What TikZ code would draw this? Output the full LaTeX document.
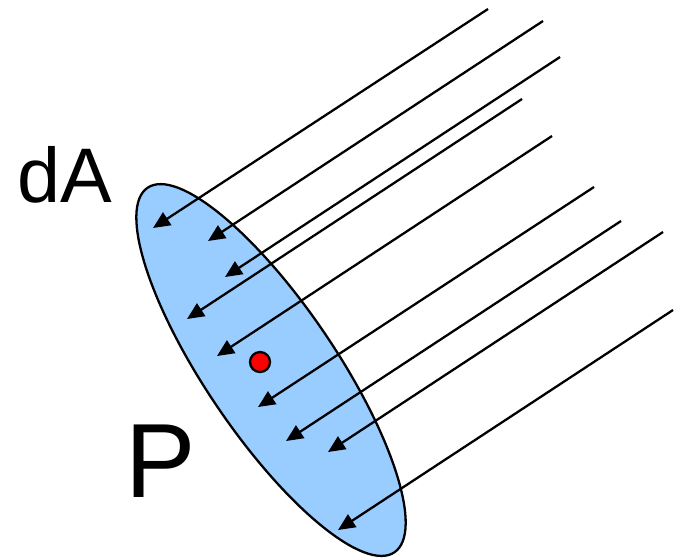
\documentclass[tikz,border=0pt]{standalone}
\usepackage{fontspec}
\setmainfont{Liberation Sans}
\usepackage{xcolor}
\usetikzlibrary{arrows.meta,shapes.geometric}
\definecolor{patchblue}{HTML}{99CCFF}

\begin{document}
\begin{tikzpicture}[x=0.01cm,y=0.01cm,line width=0.65pt,
  patch/.style={ellipse,draw,fill=patchblue,minimum width=4.4cm,
                minimum height=1.3cm,inner sep=0pt},
  ray/.style={-{Triangle[length=0.17cm,width=0.15cm]}},
  lbl/.style={anchor=base west,inner sep=0pt}]
  \useasboundingbox (0,0) rectangle (683,-557);
  \node[patch,rotate=-55.9] (dA) at (271,-370) {};
  \node[circle,draw,fill=red,minimum size=0.2cm,inner sep=0pt] (pt) at (260,-362) {};
  \node[lbl,font=\fontsize{22}{24}\selectfont] (dAtxt) at (16,-202) {dA};
  \node[lbl,font=\fontsize{30}{32}\selectfont] (Ptxt) at (124,-497) {P};
  % incoming rays
  \coordinate (s1) at (488,-9);   \coordinate (t1) at (153,-228);
  \coordinate (s2) at (543,-21);  \coordinate (t2) at (208,-241);
  \coordinate (s3) at (560,-57);  \coordinate (t3) at (225,-277);
  \coordinate (s4) at (522,-99);  \coordinate (t4) at (187,-319);
  \coordinate (s5) at (552,-136); \coordinate (t5) at (217,-356);
  \coordinate (s6) at (594,-187); \coordinate (t6) at (258,-407);
  \coordinate (s7) at (621,-221); \coordinate (t7) at (286,-441);
  \coordinate (s8) at (663,-232); \coordinate (t8) at (328,-452);
  \coordinate (s9) at (673,-310); \coordinate (t9) at (338,-530);
  \draw[ray] (s1) -- (t1);
  \draw[ray] (s2) -- (t2);
  \draw[ray] (s3) -- (t3);
  \draw[ray] (s4) -- (t4);
  \draw[ray] (s5) -- (t5);
  \draw[ray] (s6) -- (t6);
  \draw[ray] (s7) -- (t7);
  \draw[ray] (s8) -- (t8);
  \draw[ray] (s9) -- (t9);
\end{tikzpicture}
\end{document}
